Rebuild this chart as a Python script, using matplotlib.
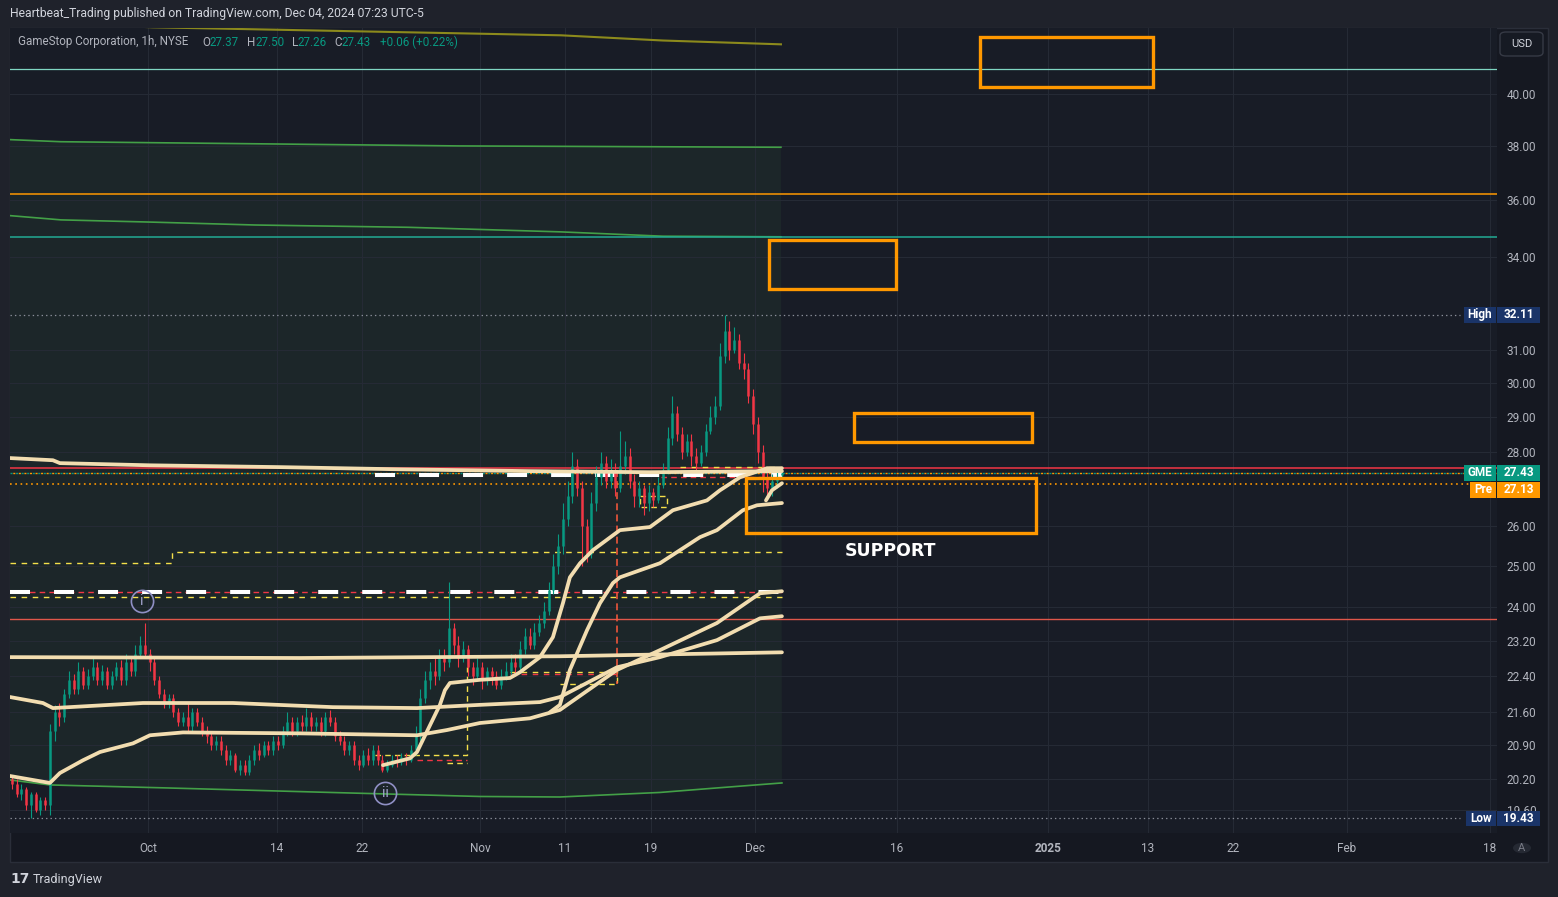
import numpy as np
import matplotlib.pyplot as plt
from matplotlib.patches import Rectangle, FancyBboxPatch
from matplotlib.ticker import NullLocator

plt.rcParams['font.family'] = ['Roboto', 'DejaVu Sans']
plt.rcParams['lines.scale_dashes'] = False

# ---------------- data ----------------
x_tick_labels = ['Oct', '14', '22', 'Nov', '11', '19', 'Dec', '16', '2025', '13', '22', 'Feb', '18']
x_tick_pos = [0, 9.05, 15.02, 23.3, 29.26, 35.3, 42.6, 52.56, 63.16, 70.18, 76.14, 84.14, 94.18]
price_ticks = [19.6, 20.2, 20.9, 21.6, 22.4, 23.2, 24.0, 25.0, 26.0, 28.0, 29.0,
               30.0, 31.0, 34.0, 36.0, 38.0, 40.0]

# hourly candles (thinned), x in trading sessions from Oct 1
bar_start, bar_step = -9.54, 1 / 3
opens = [
    20.2, 20.1, 19.9, 20.0, 19.7, 19.9, 19.6, 19.8, 19.7, 21.2,
    21.6, 21.5, 22.0, 22.3, 22.1, 22.5, 22.2, 22.4, 22.6, 22.3,
    22.5, 22.2, 22.4, 22.6, 22.3, 22.7, 22.5, 22.9, 23.1, 22.9,
    22.7, 22.3, 22.0, 21.8, 21.9, 21.6, 21.4, 21.5, 21.3, 21.6,
    21.4, 21.2, 21.1, 20.9, 21.0, 20.8, 20.6, 20.7, 20.4, 20.5,
    20.35, 20.6, 20.8, 20.7, 20.9, 20.8, 21.0, 20.9, 21.2, 21.4,
    21.2, 21.4, 21.3, 21.5, 21.3, 21.4, 21.2, 21.5, 21.4, 21.1,
    21.0, 20.8, 20.9, 20.6, 20.5, 20.7, 20.6, 20.8, 20.6, 20.4,
    20.5, 20.6, 20.55, 20.65, 20.6, 20.8, 21.1, 21.9, 22.3, 22.5,
    22.4, 22.8, 22.7, 23.5, 23.1, 22.8, 23.0, 22.6, 22.4, 22.6,
    22.3, 22.5, 22.4, 22.2, 22.4, 22.5, 22.7, 22.6, 23.0, 23.3,
    23.1, 23.4, 23.6, 23.9, 24.4, 25.0, 25.5, 26.2, 26.8, 27.6,
    27.0, 26.0, 25.3, 26.6, 27.3, 27.7, 27.2, 27.5, 27.0, 27.6,
    27.9, 27.2, 26.8, 27.0, 26.6, 26.9, 26.7, 27.1, 27.5, 28.4,
    29.1, 28.5, 28.0, 28.3, 27.9, 27.7, 28.0, 28.6, 29.0, 29.3,
    30.8, 31.6, 31.0, 31.3, 30.6, 30.4, 29.6, 28.8, 28.0, 27.3,
    27.0, 27.2, 27.37]
closes = [
    20.1, 19.9, 20.0, 19.7, 19.9, 19.6, 19.8, 19.7, 21.2, 21.6,
    21.5, 22.0, 22.3, 22.1, 22.5, 22.2, 22.4, 22.6, 22.3, 22.5,
    22.2, 22.4, 22.6, 22.3, 22.7, 22.5, 22.9, 23.1, 22.9, 22.7,
    22.3, 22.0, 21.8, 21.9, 21.6, 21.4, 21.5, 21.3, 21.6, 21.4,
    21.2, 21.1, 20.9, 21.0, 20.8, 20.6, 20.7, 20.4, 20.5, 20.35,
    20.6, 20.8, 20.7, 20.9, 20.8, 21.0, 20.9, 21.2, 21.4, 21.2,
    21.4, 21.3, 21.5, 21.3, 21.4, 21.2, 21.5, 21.4, 21.1, 21.0,
    20.8, 20.9, 20.6, 20.5, 20.7, 20.6, 20.8, 20.6, 20.4, 20.5,
    20.6, 20.55, 20.65, 20.6, 20.8, 21.1, 21.9, 22.3, 22.5, 22.4,
    22.8, 22.7, 23.5, 23.1, 22.8, 23.0, 22.6, 22.4, 22.6, 22.3,
    22.5, 22.4, 22.2, 22.4, 22.5, 22.7, 22.6, 23.0, 23.3, 23.1,
    23.4, 23.6, 23.9, 24.4, 25.0, 25.5, 26.2, 26.8, 27.6, 27.0,
    26.0, 25.3, 26.6, 27.3, 27.7, 27.2, 27.5, 27.0, 27.6, 27.9,
    27.2, 26.8, 27.0, 26.6, 26.9, 26.7, 27.1, 27.5, 28.4, 29.1,
    28.5, 28.0, 28.3, 27.9, 27.7, 28.0, 28.6, 29.0, 29.3, 30.8,
    31.6, 31.0, 31.3, 30.6, 30.4, 29.6, 28.8, 28.0, 27.3, 27.0,
    27.2, 27.3, 27.43]
highs = [
    20.3, 20.2, 20.1, 20.05, 19.95, 19.95, 19.85, 19.85, 21.35, 21.75,
    21.8, 22.1, 22.5, 22.45, 22.7, 22.6, 22.55, 22.8, 22.7, 22.65,
    22.6, 22.5, 22.7, 22.75, 22.9, 22.85, 23.1, 23.3, 23.6, 23.0,
    22.8, 22.4, 22.1, 22.0, 22.0, 21.7, 21.6, 21.8, 21.7, 21.7,
    21.5, 21.3, 21.2, 21.1, 21.1, 20.9, 20.8, 20.75, 20.6, 20.6,
    20.7, 20.9, 20.95, 21.0, 21.0, 21.1, 21.1, 21.3, 21.6, 21.5,
    21.5, 21.55, 21.7, 21.6, 21.5, 21.5, 21.6, 21.65, 21.5, 21.2,
    21.1, 21.0, 21.0, 20.7, 20.8, 20.85, 20.9, 20.9, 20.7, 20.6,
    20.7, 20.7, 20.75, 20.75, 20.9, 21.3, 22.1, 22.5, 22.7, 22.8,
    23.0, 23.0, 24.6, 23.6, 23.3, 23.2, 23.1, 22.7, 22.8, 22.7,
    22.6, 22.6, 22.5, 22.55, 22.7, 22.9, 22.9, 23.2, 23.5, 23.5,
    23.6, 23.8, 24.1, 24.6, 25.3, 25.8, 26.6, 27.2, 28.0, 27.8,
    27.2, 26.2, 26.9, 27.6, 28.0, 27.9, 27.8, 27.7, 28.6, 28.3,
    28.1, 27.4, 27.2, 27.1, 27.1, 27.0, 27.3, 27.7, 28.7, 29.6,
    29.3, 28.7, 28.5, 28.5, 28.1, 28.2, 28.8, 29.3, 29.6, 31.2,
    32.11, 31.9, 31.7, 31.5, 30.9, 30.6, 29.8, 29.0, 28.2, 27.5,
    27.4, 27.5, 27.50]
lows = [
    20.0, 19.85, 19.8, 19.6, 19.43, 19.55, 19.5, 19.6, 19.5, 21.0,
    21.3, 21.4, 21.9, 22.0, 22.0, 22.1, 22.1, 22.3, 22.2, 22.2,
    22.1, 22.1, 22.3, 22.2, 22.2, 22.4, 22.4, 22.8, 22.8, 22.5,
    22.2, 21.9, 21.7, 21.7, 21.5, 21.3, 21.3, 21.2, 21.2, 21.3,
    21.1, 20.95, 20.8, 20.8, 20.7, 20.5, 20.5, 20.35, 20.3, 20.28,
    20.3, 20.5, 20.6, 20.65, 20.7, 20.7, 20.8, 20.85, 21.1, 21.1,
    21.1, 21.2, 21.2, 21.2, 21.2, 21.1, 21.1, 21.3, 21.0, 20.9,
    20.7, 20.7, 20.5, 20.4, 20.45, 20.5, 20.5, 20.5, 20.35, 20.35,
    20.45, 20.45, 20.5, 20.5, 20.55, 20.7, 21.0, 21.8, 22.1, 22.2,
    22.3, 22.5, 22.6, 22.9, 22.6, 22.7, 22.4, 22.2, 22.3, 22.1,
    22.2, 22.2, 22.1, 22.1, 22.3, 22.4, 22.4, 22.5, 22.9, 23.0,
    23.0, 23.3, 23.5, 23.8, 24.3, 24.8, 25.3, 26.0, 26.6, 26.8,
    25.0, 25.1, 25.2, 26.4, 27.1, 27.0, 27.0, 26.8, 26.9, 27.4,
    27.0, 26.5, 26.5, 26.3, 26.4, 26.5, 26.6, 27.0, 27.4, 28.2,
    28.3, 27.8, 27.9, 27.6, 27.5, 27.6, 27.9, 28.5, 28.8, 29.2,
    30.6, 30.7, 30.9, 30.4, 30.1, 29.4, 28.5, 27.7, 26.9, 26.7,
    26.8, 27.0, 27.26]

# indicator lines (x in sessions, y in USD)
olive_x = [-9.68, 0.35, 28.98, 36.14, 44.42]
olive_y = [43.0, 42.76, 42.42, 42.2, 42.04]
green_top_x = [-9.68, -6.11, 21.82, 44.42]
green_top_y = [38.23, 38.15, 37.99, 37.94]
green_mid_x = [-9.68, -6.11, 0.35, 7.51, 18.25, 28.98, 36.14, 44.42]
green_mid_y = [35.44, 35.29, 35.21, 35.11, 35.03, 34.87, 34.72, 34.70]
green_low_x = [-9.68, -6.88, 1.33, 15.37, 23.30, 28.91, 35.93, 39.93, 44.49]
green_low_y = [20.19, 20.09, 20.03, 19.92, 19.86, 19.85, 19.94, 20.03, 20.13]

cream_top_x = [-9.68, -6.67, -6.18, 0.14, 9.26, 17.68, 26.81, 35.23, 44.49]
cream_top_y = [27.83, 27.77, 27.69, 27.63, 27.58, 27.52, 27.47, 27.44, 27.47]
cream_flat_x = [-9.68, 10.67, 28.91, 44.49]
cream_flat_y = [22.82, 22.80, 22.84, 22.93]
cream_mid_x = [-9.68, -7.37, -6.67, -0.35, 5.96, 12.98, 18.88, 23.30, 27.51, 28.91,
               32.91, 35.93, 39.93, 42.95, 44.49]
cream_mid_y = [21.93, 21.80, 21.69, 21.80, 21.80, 21.71, 21.69, 21.76, 21.82, 21.93,
               22.59, 22.82, 23.21, 23.72, 23.77]
cream_low_x = [-9.68, -6.88, -6.18, -4.56, -3.37, -1.05, 0.14, 2.46, 10.67, 18.88,
               20.98, 23.30, 26.81, 28.91, 32.91, 35.93, 39.93, 42.95, 44.49]
cream_low_y = [20.27, 20.13, 20.33, 20.59, 20.76, 20.94, 21.11, 21.17, 21.15, 21.11,
               21.22, 21.37, 21.47, 21.65, 22.53, 22.98, 23.61, 24.32, 24.37]
cream_c1_x = [16.49, 18.39, 18.88, 19.79, 20.49, 20.84, 21.19, 23.30, 25.40, 26.11,
              27.51, 28.42, 29.12, 29.61, 30.32, 31.23, 33.12, 35.23, 36.84, 39.23,
              40.14, 41.54, 43.44, 44.49]
cream_c1_y = [20.49, 20.63, 20.76, 21.32, 21.76, 22.08, 22.24, 22.31, 22.35, 22.48,
              22.82, 23.28, 24.08, 24.71, 25.06, 25.39, 25.90, 25.98, 26.42, 26.68,
              26.95, 27.30, 27.55, 27.55]
cream_c2_x = [28.21, 28.91, 29.61, 30.81, 31.72, 32.63, 33.12, 35.93, 38.74, 39.93,
              41.75, 42.74, 44.49]
cream_c2_y = [21.60, 21.76, 22.53, 23.44, 24.08, 24.57, 24.71, 25.06, 25.72, 25.90,
              26.42, 26.55, 26.61]
cream_c3_x = [43.37, 43.79, 44.49]
cream_c3_y = [26.68, 26.95, 27.14]

# horizontal levels
level_teal_light = 41.0
level_orange = 36.21
level_teal = 34.68
level_red_hi = 27.55
level_red_lo = 23.70
last_price = 27.43
pre_price = 27.13
high_price = 32.11
low_price = 19.43

# zones drawn on the chart: (x0, x1, y0, y1)
box_x0 = [58.4, 43.58, 49.54, 41.96]
box_x1 = [70.5, 52.49, 62.04, 62.32]
box_y0 = [40.28, 32.93, 28.28, 25.82]
box_y1 = [42.33, 34.59, 29.11, 27.28]

# ---------------- figure ----------------
W, H = 1558, 897
fig = plt.figure(figsize=(W / 100, H / 100), dpi=100)
fig.patch.set_facecolor('#1f222b')


def fx(px):
    return px / W


def fy(py):
    return 1 - py / H


fig.add_artist(Rectangle((fx(10), fy(862)), fx(1548) - fx(10), fy(28) - fy(862),
                         transform=fig.transFigure, facecolor='#151821',
                         edgecolor='#2a2e39', lw=1, zorder=0))

ax = fig.add_axes([fx(10), fy(833), fx(1497) - fx(10), fy(28) - fy(833)])
ax.set_facecolor('#181c26')
for sp in ax.spines.values():
    sp.set_visible(False)
ax.set_yscale('log')
XMIN, XMAX = -9.68, 94.67
ax.set_xlim(XMIN, XMAX)
ax.set_ylim(19.15, 42.73)

ax.set_yticks(price_ticks)
ax.yaxis.set_minor_locator(NullLocator())
ax.set_yticklabels([f'{t:.2f}' for t in price_ticks])
ax.yaxis.tick_right()
ax.set_xticks(x_tick_pos)
ax.set_xticklabels(x_tick_labels)
ax.tick_params(axis='y', length=0, pad=7, labelcolor='#b2b5be', labelsize=8.5)
ax.tick_params(axis='x', length=0, pad=6.5, labelcolor='#b2b5be', labelsize=8.5)
for lab in ax.get_xticklabels():
    if lab.get_text() == '2025':
        lab.set_fontweight('bold')
ax.grid(True, color='#252a35', lw=0.8, zorder=0)
ax.set_axisbelow(True)

# shaded channel between the outer green bands
poly_x = green_top_x + green_low_x[::-1]
poly_y = green_top_y + green_low_y[::-1]
ax.fill(poly_x, poly_y, color='#1c2629', zorder=0.5, lw=0)

ax.plot(olive_x, olive_y, color='#8c8a1c', lw=1.5, zorder=2)
ax.plot(green_top_x, green_top_y, color='#43a047', lw=1.2, zorder=2)
ax.plot(green_mid_x, green_mid_y, color='#43a047', lw=1.2, zorder=2)
ax.plot(green_low_x, green_low_y, color='#43a047', lw=1.2, zorder=2)

ax.axhline(level_teal_light, color='#7fd6c2', lw=0.9, zorder=2)
ax.axhline(level_orange, color='#ff9800', lw=1.1, zorder=2)
ax.axhline(level_teal, color='#22ab94', lw=1.1, zorder=2)
ax.axhline(level_red_hi, color='#f23645', lw=1.1, zorder=3)
ax.axhline(level_red_lo, color='#e0574a', lw=1.0, zorder=3)

# dotted price lines
ax.plot([XMIN, XMAX], [last_price] * 2, color='#089981', lw=1.0, ls=(0, (1.5, 2.5)), zorder=3)
ax.plot([XMIN, XMAX], [last_price] * 2, color='#ff9800', lw=1.0, ls=(2, (1.5, 2.5)), zorder=3)
ax.plot([XMIN, XMAX], [pre_price] * 2, color='#ff9800', lw=1.2, ls=(0, (1.2, 2.6)), zorder=3)
hl_end = 92.07
ax.plot([XMIN, hl_end], [high_price] * 2, color='#8a8e99', lw=0.9, ls=(0, (1, 2.2)), zorder=3)
ax.plot([XMIN, hl_end], [low_price] * 2, color='#8a8e99', lw=0.9, ls=(0, (1, 2.2)), zorder=3)

# dashed levels
yel = '#f5e04a'
ax.plot([XMIN, 44.49], [24.35, 24.35], color='#f23645', lw=1.0, ls=(0, (4, 3)), zorder=3)
ax.plot([XMIN, 44.49], [24.23, 24.23], color=yel, lw=1.0, ls=(0, (4, 4)), zorder=3)
ax.plot([XMIN, 44.49], [24.35, 24.35], color='white', lw=2.9, ls=(0, (14.4, 17.3)),
        dash_capstyle='butt', zorder=4)
ax.plot([15.93, 44.49], [27.36, 27.36], color='white', lw=2.9, ls=(0, (14.4, 17.3)),
        dash_capstyle='butt', zorder=4)
ax.plot([XMIN, 1.68, 1.68, 44.49], [25.06, 25.06, 25.34, 25.34], color=yel, lw=1.0,
        ls=(0, (4, 4)), zorder=3)
ax.plot([37.33, 44.49], [27.58, 27.58], color=yel, lw=1.0, ls=(0, (4, 4)), zorder=3)
ax.plot([36.0, 44.49], [27.30, 27.30], color='#f23645', lw=1.0, ls=(0, (4, 3)), zorder=3)
# dashed range boxes
ax.plot([15.9, 22.39, 22.39], [20.70, 20.70, 22.59], color=yel, lw=1.0, ls=(0, (4, 3)), zorder=3)
ax.plot([21.0, 22.39], [20.53, 20.53], color=yel, lw=1.0, ls=(0, (4, 3)), zorder=3)
ax.plot([18.9, 22.39], [20.59, 20.59], color='#f23645', lw=1.0, ls=(0, (4, 3)), zorder=3)
ax.plot([25.4, 32.91], [22.48, 22.48], color=yel, lw=1.0, ls=(0, (4, 4)), zorder=3)
ax.plot([25.4, 32.91], [22.43, 22.43], color='#f23645', lw=1.0, ls=(0, (4, 4)), zorder=3)
ax.plot([28.9, 32.91, 32.91], [22.22, 22.22, 22.5], color=yel, lw=1.0, ls=(0, (4, 3)), zorder=3)
ax.plot([32.91, 32.91], [27.50, 22.22], color='#ff5a3c', lw=1.1, ls=(0, (5, 3)), zorder=3)
ax.plot([34.5, 36.4, 36.4, 34.5, 34.5], [26.8, 26.8, 26.5, 26.5, 26.8], color=yel, lw=1.0,
        ls=(0, (4, 3)), zorder=3)

# candles
bx = bar_start + bar_step * np.arange(len(closes))
o = np.array(opens)
c = np.array(closes)
cols = np.where(c >= o, '#089981', '#f23645')
ax.vlines(bx, lows, highs, colors=cols, lw=0.8, zorder=5)
ax.vlines(bx, np.minimum(o, c), np.maximum(o, c), colors=cols, lw=1.8, zorder=5)

# anchored vwap style lines
cream = '#f2ddb0'
for xs, ys in [(cream_top_x, cream_top_y), (cream_flat_x, cream_flat_y),
               (cream_mid_x, cream_mid_y), (cream_low_x, cream_low_y),
               (cream_c1_x, cream_c1_y), (cream_c2_x, cream_c2_y),
               (cream_c3_x, cream_c3_y)]:
    ax.plot(xs, ys, color=cream, lw=2.7, solid_capstyle='round', zorder=6)

# wave labels
for xs, ys, t in [(-0.42, 24.13, 'i'), (16.63, 19.92, 'ii')]:
    ax.plot(xs, ys, marker='o', ms=16, mfc='none', mec='#8f8fc4', mew=1.2, zorder=7)
    ax.text(xs, ys, t, color='#a9a9d6', fontsize=10, ha='center', va='center', zorder=7)

# orange zones
for x0, x1, y0, y1 in zip(box_x0, box_x1, box_y0, box_y1):
    ax.add_patch(Rectangle((x0, y0), x1 - x0, y1 - y0, fill=False, edgecolor='#ff9800',
                           lw=2.4, zorder=6))
ax.text(52.1, 25.36, 'SUPPORT', color='white', fontsize=12.5, fontweight='bold',
        family=['DejaVu Sans'], ha='center', va='center', zorder=7)


# price-axis tags
def price_tag(price, label, text, color, lx0, shift_px=0, h_px=16):
    yc = ax.transData.transform((0, price))[1] / H - shift_px / H
    h = h_px / H
    fig.add_artist(Rectangle((fx(1497), yc - h / 2), 43 / W, h, transform=fig.transFigure,
                             facecolor=color, edgecolor='none', zorder=10))
    fig.add_artist(Rectangle((fx(lx0), yc - h / 2), (1496 - lx0) / W, h,
                             transform=fig.transFigure, facecolor=color,
                             edgecolor='none', zorder=10))
    fig.text(fx(1518.5), yc, text, color='white', fontsize=8.5, fontweight='bold',
             ha='center', va='center', zorder=11)
    fig.text(fx((lx0 + 1496) / 2), yc, label, color='white', fontsize=8.5,
             fontweight='bold', ha='center', va='center', zorder=11)


price_tag(high_price, 'High', '32.11', '#1a3468', 1464)
price_tag(last_price, 'GME', '27.43', '#089981', 1464)
price_tag(pre_price, 'Pre', '27.13', '#ff9800', 1470, shift_px=6)
price_tag(low_price, 'Low', '19.43', '#1a3468', 1466, h_px=15)

# USD button and auto button
fig.add_artist(FancyBboxPatch((fx(1500), fy(56)), 43 / W, 24 / H,
                              boxstyle='round,pad=0,rounding_size=0.004',
                              transform=fig.transFigure, facecolor='#161a23',
                              edgecolor='#363a45', lw=1, zorder=10))
fig.text(fx(1521.5), fy(44), 'USD', color='#d1d4dc', fontsize=8, ha='center',
         va='center', zorder=11)
fig.add_artist(plt.Circle((fx(1522), fy(848)), 9 / W, transform=fig.transFigure,
                          facecolor='#252933', edgecolor='none', zorder=10))
fig.text(fx(1522), fy(848), 'A', color='#787b86', fontsize=8, ha='center', va='center',
         zorder=11)

# header
fig.text(fx(10), fy(13), 'Heartbeat_Trading published on TradingView.com, Dec 04, 2024 07:23 UTC-5',
         color='#d1d4dc', fontsize=8.7, va='center')
grey, teal = '#b2b5be', '#089981'
legend_parts = [(18, 'GameStop Corporation, 1h, NYSE', grey), (202, 'O', grey),
                (210, '27.37', teal), (247, 'H', grey), (255, '27.50', teal),
                (292, 'L', grey), (298, '27.26', teal), (334, 'C', grey),
                (341, '27.43', teal), (380, '+0.06 (+0.22%)', teal)]
for px, t, col in legend_parts:
    fig.text(fx(px), fy(42), t, color=col, fontsize=8.4, va='center', zorder=11)

# footer logo
fig.text(fx(10), fy(879), '17', color='#d1d4dc', fontsize=10, fontweight='bold',
         family=['DejaVu Sans'], va='center')
fig.text(fx(33), fy(879), 'TradingView', color='#d1d4dc', fontsize=9, va='center')

fig.savefig('out.png', dpi=100, facecolor=fig.get_facecolor())
